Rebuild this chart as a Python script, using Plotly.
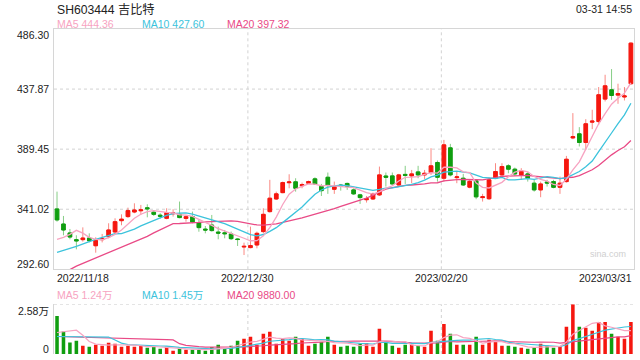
import plotly.graph_objects as go
import pandas as pd

# ---------------- data ----------------
holidays = ['2023-01-02', '2023-01-23', '2023-01-24', '2023-01-25', '2023-01-26', '2023-01-27']
dates = [d.strftime('%Y/%m/%d') for d in pd.bdate_range('2022-11-18', '2023-03-31')
         if d.strftime('%Y-%m-%d') not in holidays]

opens = [341.25, 329.1, 321.9, 316.5, 316.5, 317.8, 311.6, 316.5, 318.9, 322.7,
         331.8, 335.1, 338.8, 339.8, 342.2, 338.6, 336.2, 333.7, 337.4, 336.9,
         333.6, 335.1, 330.2, 325.0, 328.3, 322.6, 322.0, 321.1, 317.0, 310.6,
         310.1, 312.2, 323.0, 339.1, 349.3, 354.4, 362.4, 363.1, 360.0, 362.0,
         365.5, 359.3, 366.8, 357.1, 360.5, 361.8, 356.6, 352.6, 348.7, 349.3,
         352.6, 367.8, 367.9, 360.6, 369.1, 367.9, 371.1, 368.7, 370.6, 378.7,
         366.0, 390.5, 366.5, 366.0, 358.8, 363.9, 350.4, 349.5, 366.0, 368.7,
         376.0, 373.3, 368.7, 369.5, 362.0, 356.6, 363.0, 363.3, 358.7, 363.3,
         398.5, 401.8, 394.8, 411.2, 411.7, 429.8, 437.3, 433.0, 431.5, 442.2]
highs = [355.2, 335.6, 325.1, 320.0, 326.4, 321.6, 318.4, 321.1, 329.7, 333.7,
         336.9, 342.3, 345.8, 344.5, 345.0, 340.4, 337.8, 341.8, 341.0, 347.2,
         336.4, 339.1, 332.4, 327.5, 336.4, 327.0, 324.3, 323.0, 317.6, 314.1,
         327.0, 323.0, 341.8, 364.7, 355.2, 363.3, 369.2, 366.0, 362.5, 364.1,
         366.8, 361.4, 370.6, 363.3, 361.4, 362.5, 357.9, 353.4, 351.7, 354.4,
         375.4, 370.6, 370.6, 369.5, 376.0, 372.7, 376.0, 372.7, 390.2, 380.3,
         396.9, 393.7, 371.4, 369.5, 365.2, 364.7, 353.4, 366.8, 378.1, 378.1,
         377.3, 374.6, 374.1, 371.4, 364.7, 363.3, 364.7, 364.7, 367.3, 384.0,
         418.5, 407.2, 413.6, 421.2, 439.5, 449.4, 454.0, 442.2, 439.5, 475.5]
lows = [331.0, 320.0, 316.8, 308.7, 314.9, 314.3, 306.0, 314.3, 317.6, 322.1,
        328.1, 334.0, 337.8, 336.4, 334.5, 335.6, 333.4, 332.9, 335.1, 333.7,
        331.0, 329.7, 322.9, 321.6, 323.0, 316.8, 317.6, 316.2, 311.4, 304.1,
        309.5, 309.5, 321.6, 338.3, 348.5, 353.9, 357.9, 355.2, 357.9, 361.4,
        360.6, 351.7, 353.4, 353.4, 356.0, 356.6, 352.6, 345.3, 346.4, 348.5,
        351.7, 359.3, 360.9, 360.1, 361.4, 362.0, 366.0, 365.2, 368.7, 363.3,
        363.3, 367.5, 362.0, 359.8, 357.9, 349.1, 347.2, 348.5, 365.5, 368.2,
        370.0, 367.9, 364.7, 363.3, 355.2, 350.7, 359.3, 357.9, 353.4, 362.5,
        397.5, 391.6, 388.9, 405.6, 409.0, 427.9, 429.2, 426.0, 428.7, 441.3]
closes = [332.4, 324.3, 318.6, 315.5, 317.8, 315.6, 315.9, 317.2, 324.3, 331.0,
          333.0, 339.9, 340.4, 340.5, 341.4, 336.9, 335.4, 338.3, 338.0, 334.3,
          335.0, 330.8, 326.2, 324.3, 323.8, 321.8, 321.3, 317.3, 316.6, 311.1,
          311.7, 321.6, 336.9, 349.9, 353.4, 362.5, 363.0, 357.9, 360.8, 363.3,
          361.4, 356.0, 360.1, 359.3, 359.8, 359.3, 353.4, 350.4, 349.5, 353.4,
          368.7, 366.8, 361.4, 368.7, 368.3, 369.5, 368.7, 370.0, 376.0, 366.8,
          392.9, 368.7, 367.1, 360.6, 363.5, 351.0, 351.0, 364.7, 371.4, 375.4,
          373.3, 369.5, 371.9, 366.0, 356.6, 361.4, 362.2, 358.7, 362.0, 381.3,
          399.5, 394.8, 409.9, 412.0, 433.3, 440.5, 432.7, 434.2, 432.3, 474.9]
volumes = [19760, 11660, 5990, 6860, 4280, 3770, 4800, 4280, 5830, 5310,
           3770, 4280, 3770, 4280, 3250, 3920, 2730, 3770, 1700, 2890,
           2220, 2220, 2220, 1700, 3610, 4800, 3100, 4280, 6860, 7900,
           8930, 4800, 10480, 11510, 5310, 7900, 6860, 8930, 7900, 4280,
           5310, 6350, 8930, 4800, 3770, 4280, 3770, 5310, 5680, 3770,
           13050, 6500, 4280, 3250, 4800, 4800, 4280, 3770, 12020, 6860,
           15630, 10480, 4800, 4800, 4800, 8930, 4800, 7380, 6860, 4280,
           4280, 3770, 3250, 2730, 3250, 5310, 4280, 3250, 3770, 14090,
           25800, 14090, 13570, 12020, 16670, 16670, 10480, 8930, 7900, 16670]

# moving-average values before enough in-window history
ma5_head = [316.8, 318.4, 320.8, 324.0]
ma10_head = [306.3, 307.6, 309.5, 311.1, 313.3, 314.9, 316.8, 318.4, 319.5]
ma20_head = [289.0, 290.5, 292.3, 295.2, 297.4, 299.3, 301.7, 303.8, 306.0, 307.9,
             310.0, 312.2, 314.4, 316.5, 319.2, 321.9, 324.6, 327.3, 329.4]
vma5_head = [11150, 11480, 11830, 12340]
vma10_head = [9080, 9080, 9080, 9080, 9000, 8930, 8930, 8860, 8800]
vma20_head = [9080, 9000, 8900, 8800, 8750, 8700, 8600, 8500, 8400, 8300,
              8200, 8100, 8000, 7900, 7800, 7700, 7600, 7500, 7300]

price_ticks = [292.60, 341.02, 389.45, 437.87, 486.30]
vol_max = 25800
vol_tick_labels = ['2.58万', '0']
date_ticks = ['2022/11/18', '2022/12/30', '2023/02/20', '2023/03/31']

title_text = 'SH603444 吉比特'
time_text = '03-31 14:55'
price_legend = ['MA5 444.36', 'MA10 427.60', 'MA20 397.32']
vol_legend = ['MA5 1.24万', 'MA10 1.45万', 'MA20 9880.00']

# ---------------- helpers ----------------
def moving_avg(vals, n, head):
    out = list(head)
    for i in range(len(head), len(vals)):
        w = vals[i - n + 1:i + 1]
        out.append(sum(w) / len(w))
    return out

ma5 = moving_avg(closes, 5, ma5_head)
ma10 = moving_avg(closes, 10, ma10_head)
ma20 = moving_avg(closes, 20, ma20_head)
vma5 = moving_avg(volumes, 5, vma5_head)
vma10 = moving_avg(volumes, 10, vma10_head)
vma20 = moving_avg(volumes, 20, vma20_head)

RED = '#f5170f'
GREEN = '#109e10'
RED_W = 'rgba(245,40,30,0.55)'
GREEN_W = 'rgba(16,158,16,0.5)'
C5, C10, C20 = '#f7a3c1', '#3cc3dc', '#e94a86'
FONT = 'Liberation Sans, Arial, Noto Sans CJK SC, sans-serif'
GRID = '#d2d2d2'
BORDER = '#d6d6d6'

idx = list(range(len(dates)))
body_hi = [max(o, c) for o, c in zip(opens, closes)]
body_lo = [min(o, c) for o, c in zip(opens, closes)]
vol_colors = [RED if c >= o else GREEN for o, c in zip(opens, closes)]

L, R, T, B = 54, 6, 29, 6
W, H = 640 - L - R, 360 - T - B

def px(xp):
    return (xp - L) / W

def py(yp):
    return (360 - B - yp) / H

fig = go.Figure()

# wicks (lighter)
fig.add_trace(go.Candlestick(
    x=idx, open=opens, high=highs, low=lows, close=closes,
    increasing=dict(line=dict(color=RED_W, width=1), fillcolor='rgba(0,0,0,0)'),
    decreasing=dict(line=dict(color=GREEN_W, width=1), fillcolor='rgba(0,0,0,0)'),
    whiskerwidth=0, hoverinfo='skip', showlegend=False))
# bodies
fig.add_trace(go.Candlestick(
    x=idx, open=opens, high=body_hi, low=body_lo, close=closes,
    increasing=dict(line=dict(color=RED, width=1), fillcolor=RED),
    decreasing=dict(line=dict(color=GREEN, width=1), fillcolor=GREEN),
    whiskerwidth=0, hoverinfo='skip', showlegend=False))

for vals, col in [(ma20, C20), (ma10, C10), (ma5, C5)]:
    fig.add_trace(go.Scatter(x=idx, y=vals, mode='lines', line=dict(color=col, width=1.3),
                             hoverinfo='skip', showlegend=False))

fig.add_trace(go.Bar(x=idx, y=volumes, marker=dict(color=vol_colors, line=dict(width=0)),
                     xaxis='x2', yaxis='y2', hoverinfo='skip', showlegend=False))
for vals, col in [(vma20, C20), (vma10, C10), (vma5, C5)]:
    fig.add_trace(go.Scatter(x=idx, y=vals, mode='lines', line=dict(color=col, width=1.2),
                             xaxis='x2', yaxis='y2', hoverinfo='skip', showlegend=False))

main_bottom = py(269.3)
vol_top = py(304.3)
xr = [-0.47, len(idx) - 1 + 0.48]

shapes = []
# horizontal dotted grid (inner price ticks)
for v in price_ticks[1:-1]:
    shapes.append(dict(type='line', xref='x domain', yref='y', x0=0, x1=1, y0=v, y1=v,
                       line=dict(color=GRID, width=1, dash='dot'), layer='below'))
# vertical dotted grid at middle date ticks
for d in date_ticks[1:-1]:
    xi = dates.index(d) - 0.4
    for yr in ['y domain', 'y2 domain']:
        shapes.append(dict(type='line', xref='x', yref=yr, x0=xi, x1=xi, y0=0, y1=1,
                           line=dict(color=GRID, width=1, dash='dot'), layer='below'))
# volume top dotted line
shapes.append(dict(type='line', xref='x2 domain', yref='y2', x0=0, x1=1, y0=vol_max, y1=vol_max,
                   line=dict(color=GRID, width=1, dash='dot'), layer='below'))

ann = []
def text(x, y, s, color='#222', size=10.5, xanchor='left', xref='paper', yref='paper', yshift=0):
    ann.append(dict(x=x, y=y, xref=xref, yref=yref, text=s, showarrow=False,
                    xanchor=xanchor, yanchor='middle', yshift=yshift,
                    font=dict(family=FONT, size=size, color=color)))

text(px(55), py(9), title_text, color='#222', size=12.2)
text(px(634), py(8.5), time_text, xanchor='right', size=10.5)
for s, col, xp in zip(price_legend, [C5, C10, C20], [55, 140, 225.3]):
    text(px(xp), py(24.3), s, color=col)
for s, col, xp in zip(vol_legend, [C5, C10, C20], [55, 140, 225.3]):
    text(px(xp), py(295), s, color=col)
for i, v in enumerate(price_ticks):
    shift = 5 if i == 0 else (-6 if i == len(price_ticks) - 1 else 0)
    text(px(51), v, '%.2f' % v, xanchor='right', yref='y', yshift=shift)
text(px(51), py(310.7), vol_tick_labels[0], xanchor='right')
text(px(51), py(349), vol_tick_labels[1], xanchor='right')
# date labels
text(px(55), py(277.8), date_ticks[0])
for d in date_ticks[1:-1]:
    text(dates.index(d) - 0.4, py(277.8), d, xanchor='center', xref='x')
text(px(633.5), py(277.8), date_ticks[-1], xanchor='right')
text(px(628), py(254), 'sina.com', color='#cfcfcf', size=9, xanchor='right')

fig.update_layout(
    width=640, height=360,
    margin=dict(l=L, r=R, t=T, b=B),
    paper_bgcolor='white', plot_bgcolor='white',
    boxgap=0.2, bargap=0.45,
    showlegend=False,
    shapes=shapes, annotations=ann,
    xaxis=dict(domain=[0, 1], range=xr, anchor='y', showticklabels=False, showgrid=False,
               zeroline=False, showline=True, mirror=True, linecolor=BORDER, linewidth=1,
               rangeslider=dict(visible=False), fixedrange=True, ticks=''),
    yaxis=dict(domain=[main_bottom, 1], range=[price_ticks[0], price_ticks[-1]], showticklabels=False,
               showgrid=False, zeroline=False, showline=True, mirror=True, linecolor=BORDER,
               linewidth=1, ticks=''),
    xaxis2=dict(domain=[0, 1], range=xr, anchor='y2', showticklabels=False, showgrid=False,
                zeroline=False, showline=False, ticks=''),
    yaxis2=dict(domain=[0, vol_top], range=[0, vol_max], showticklabels=False, showgrid=False,
                zeroline=False, showline=True, linecolor=BORDER, linewidth=1, ticks=''),
)

fig.write_html('out.html', config={'displayModeBar': False},
               post_script="document.body.style.margin='0';")
